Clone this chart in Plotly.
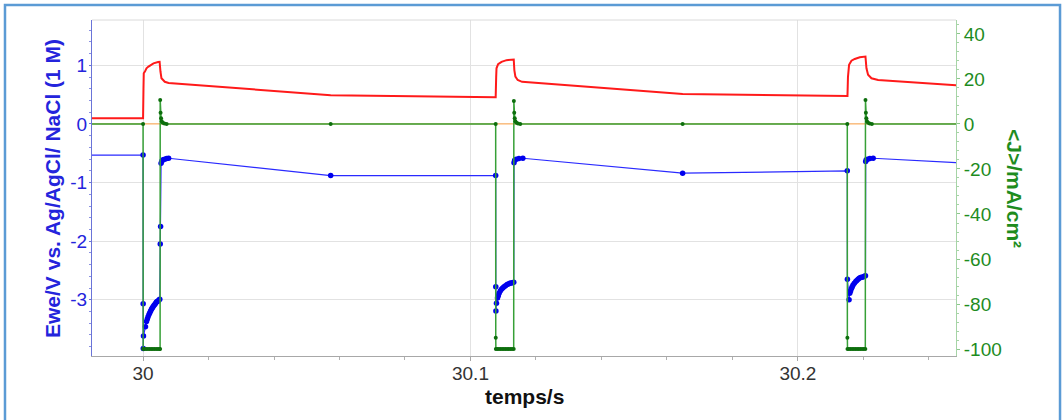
import plotly.graph_objects as go

# ---------------- data ----------------
# Red potential trace (left axis, V)
red_t = [29.9500, 30.00000, 30.00012, 30.00021, 30.00061, 30.00104, 30.00165, 30.00257, 30.00318,
         30.00458, 30.00505, 30.00530, 30.00562, 30.00663, 30.00780,
         30.0573,
         30.10770, 30.10785, 30.10795, 30.10844, 30.10948, 30.11101, 30.11253, 30.11300, 30.11322,
         30.11340, 30.11372, 30.11442, 30.11576,
         30.1648,
         30.21515, 30.21530, 30.21564, 30.21637, 30.21738, 30.21891, 30.22022, 30.22065,
         30.22095, 30.22144, 30.22248, 30.22450,
         30.2724]
red_v = [0.097, 0.097, 0.60, 0.865, 0.90, 0.95, 0.98, 1.02, 1.035,
         1.058, 1.06, 0.90, 0.78, 0.72, 0.70,
         0.49,
         0.455, 0.80, 0.95, 1.02, 1.06, 1.09, 1.10, 1.11, 1.10,
         0.92, 0.81, 0.75, 0.72,
         0.51,
         0.477, 0.80, 1.01, 1.08, 1.11, 1.14, 1.15, 1.15,
         0.95, 0.84, 0.78, 0.75,
         0.57]

# Blue Ewe trace (left axis, V)
blue_t = [29.9500, 30.00000, 30.00003, 30.00006, 30.00012, 30.00073, 30.00104, 30.00130, 30.00153,
          30.00180, 30.00205, 30.00230, 30.00257, 30.00280, 30.00305, 30.00330, 30.00357,
          30.00383, 30.00409, 30.00433, 30.00458, 30.00485, 30.00510, 30.00525, 30.00535,
          30.00550, 30.00575, 30.00610, 30.00660, 30.00720, 30.00780,
          30.0573,
          30.10770, 30.10773, 30.10777, 30.10794, 30.10825, 30.10850, 30.10874, 30.10910,
          30.10947, 30.10985, 30.11026, 30.11070, 30.11118, 30.11160, 30.11201, 30.11240,
          30.11283, 30.11322, 30.11330, 30.11350, 30.11400, 30.11480, 30.11600,
          30.1648,
          30.21510, 30.21513, 30.21564, 30.21585, 30.21610, 30.21637, 30.21660, 30.21686,
          30.21725, 30.21768, 30.21800, 30.21839, 30.21875, 30.21912, 30.21950, 30.21992,
          30.22030, 30.22065, 30.22072, 30.22090, 30.22130, 30.22200, 30.22300,
          30.2724]
blue_v = [-0.53, -0.53, -3.07, -3.83, -3.62, -3.46, -3.37, -3.33, -3.29,
          -3.25, -3.22, -3.19, -3.16, -3.14, -3.12, -3.10, -3.08,
          -3.06, -3.04, -3.03, -3.02, -3.005, -2.99, -2.05, -1.75,
          -0.67, -0.63, -0.61, -0.60, -0.59, -0.585,
          -0.88,
          -0.88, -2.78, -3.19, -3.06, -2.97, -2.93, -2.89, -2.85,
          -2.82, -2.80, -2.78, -2.76, -2.74, -2.73, -2.72, -2.715,
          -2.71, -2.70, -0.66, -0.62, -0.60, -0.59, -0.585,
          -0.84,
          -0.80, -2.65, -3.00, -2.89, -2.85, -2.81, -2.78, -2.75,
          -2.72, -2.69, -2.67, -2.65, -2.635, -2.62, -2.615, -2.61,
          -2.60, -2.59, -0.64, -0.61, -0.60, -0.59, -0.585,
          -0.73]

# Green current density trace (right axis, mA/cm2)
green_t = [29.9500, 30.00000, 30.00003, 30.00050, 30.00100, 30.00150, 30.00200, 30.00250, 30.00300,
           30.00350, 30.00400, 30.00450, 30.00500, 30.00520, 30.00523, 30.00535, 30.00550,
           30.00570, 30.00600, 30.00650, 30.00720,
           30.0573,
           30.10770, 30.10772, 30.10776, 30.10820, 30.10870, 30.10920, 30.10970, 30.11020,
           30.11070, 30.11120, 30.11170, 30.11220, 30.11270, 30.11320, 30.11325, 30.11337,
           30.11352, 30.11372, 30.11402, 30.11452, 30.11520,
           30.1648,
           30.21510, 30.21512, 30.21516, 30.21560, 30.21610, 30.21660, 30.21710, 30.21760,
           30.21810, 30.21860, 30.21910, 30.21960, 30.22010, 30.22060, 30.22065, 30.22077,
           30.22092, 30.22112, 30.22142, 30.22192, 30.22260,
           30.2724]
green_j = [0, 0, -100, -100, -100, -100, -100, -100, -100,
           -100, -100, -100, -100, -100, 10.7, 5.0, 2.5,
           1.2, 0.5, 0.2, 0,
           0,
           0, -95, -100, -100, -100, -100, -100, -100,
           -100, -100, -100, -100, -100, -100, 10.2, 5.0,
           2.5, 1.2, 0.5, 0.2, 0,
           0,
           0, -95, -100, -100, -100, -100, -100, -100,
           -100, -100, -100, -100, -100, -100, 10.7, 5.0,
           2.5, 1.2, 0.5, 0.2, 0,
           0]

# Orange zero reference trace
zero_t = [29.95, 30.30]
zero_v = [0, 0]

# Axis ticks
x_ticks = [30.0, 30.1, 30.2]
x_ticktext = ["30", "30.1", "30.2"]
yl_ticks = [-3, -2, -1, 0, 1]
yl_ticktext = ["-3", "-2", "-1", "0", "1"]
yr_ticks = [-100, -80, -60, -40, -20, 0, 20, 40]
yr_ticktext = ["-100", "-80", "-60", "-40", "-20", "0", "20", "40"]

# ---------------- figure ----------------
FONT = "Liberation Sans, Arial, sans-serif"
BLUE_TXT = "#2424dc"
GREEN_TXT = "#1e8c1e"

fig = go.Figure()
fig.add_trace(go.Scatter(x=zero_t, y=zero_v, mode="lines", yaxis="y2",
                         line=dict(color="#ffb468", width=1.2), showlegend=False))
fig.add_trace(go.Scatter(x=red_t, y=red_v, mode="lines", yaxis="y",
                         line=dict(color="#ff1a1a", width=2), showlegend=False))
fig.add_trace(go.Scatter(x=green_t, y=green_j, mode="lines+markers", yaxis="y2",
                         line=dict(color="#37a037", width=1.5),
                         marker=dict(color="#0d6e0d", size=4), showlegend=False))
fig.add_trace(go.Scatter(x=blue_t, y=blue_v, mode="lines+markers", yaxis="y",
                         line=dict(color="#2a2aff", width=1.2),
                         marker=dict(color="#0000ee", size=5.5), showlegend=False))

fig.update_layout(
    width=1064, height=420,
    margin=dict(l=92, r=108, t=20, b=64),
    paper_bgcolor="white", plot_bgcolor="white",
    font=dict(family=FONT, size=19),
    xaxis=dict(range=[29.9844, 30.2483], tickvals=x_ticks, ticktext=x_ticktext,
               showgrid=True, gridcolor="#e2e2e2", gridwidth=1,
               zeroline=False, showline=True, linecolor="#a8a8a8", linewidth=1,
               ticks="outside", ticklen=4, tickcolor="#a8a8a8", ticklabelstandoff=-4,
               minor=dict(dtick=0.02, tick0=30.0, ticks="outside", ticklen=3,
                          tickcolor="#b0b0b0", showgrid=False),
               tickfont=dict(family=FONT, size=19, color="#333333")),
    yaxis=dict(range=[-3.96, 1.775], tickvals=yl_ticks, ticktext=yl_ticktext,
               showgrid=True, gridcolor="#e2e2e2", gridwidth=1,
               zeroline=False, showline=True, linecolor="#6a74d8", linewidth=1,
               ticks="outside", ticklen=2, tickcolor="#6a74d8", ticklabelstandoff=-2,
               minor=dict(dtick=0.2, ticks="outside", ticklen=2,
                          tickcolor="#8a90e0", showgrid=False),
               tickfont=dict(family=FONT, size=19, color=BLUE_TXT)),
    yaxis2=dict(range=[-103.1, 46.2], overlaying="y", side="right", anchor="x",
                tickvals=yr_ticks, ticktext=yr_ticktext,
                showgrid=False, zeroline=False, showline=True,
                linecolor="#a6d4a6", linewidth=1,
                ticks="outside", ticklen=3, tickcolor="#8cc88c",
                minor=dict(dtick=4, ticks="outside", ticklen=2,
                           tickcolor="#a6d4a6", showgrid=False),
                tickfont=dict(family=FONT, size=19, color=GREEN_TXT)),
)

# plot frame top line
fig.add_shape(type="line", xref="paper", yref="paper", x0=0, x1=1, y0=1, y1=1,
              line=dict(color="#dadada", width=1))
# outer blue border
fig.add_shape(type="rect", xref="paper", yref="paper",
              x0=-0.1007, x1=1.1204, y0=-0.25, y1=1.0446,
              line=dict(color="#5b9bd5", width=2.5), fillcolor="rgba(0,0,0,0)")

# axis titles
fig.add_annotation(text="Ewe/V vs. Ag/AgCl/ NaCl (1 M)", xref="paper", yref="paper",
                   x=-0.0463, y=0.5, xanchor="center", yanchor="middle", textangle=-90,
                   showarrow=False, font=dict(family=FONT, size=21, color=BLUE_TXT, weight="bold"))
fig.add_annotation(text="&lt;J&gt;/mA/cm²", xref="paper", yref="paper",
                   x=1.0683, y=0.5, xanchor="center", yanchor="middle", textangle=90,
                   showarrow=False, font=dict(family=FONT, size=21, color=GREEN_TXT, weight="bold"))
fig.add_annotation(text="temps/s", xref="paper", yref="paper",
                   x=0.5, y=-0.122, xanchor="center", yanchor="middle",
                   showarrow=False, font=dict(family=FONT, size=21, color="#111111", weight="bold"))

fig.write_html("out.html", config={"displayModeBar": False},
               post_script="document.body.style.margin='0';")
